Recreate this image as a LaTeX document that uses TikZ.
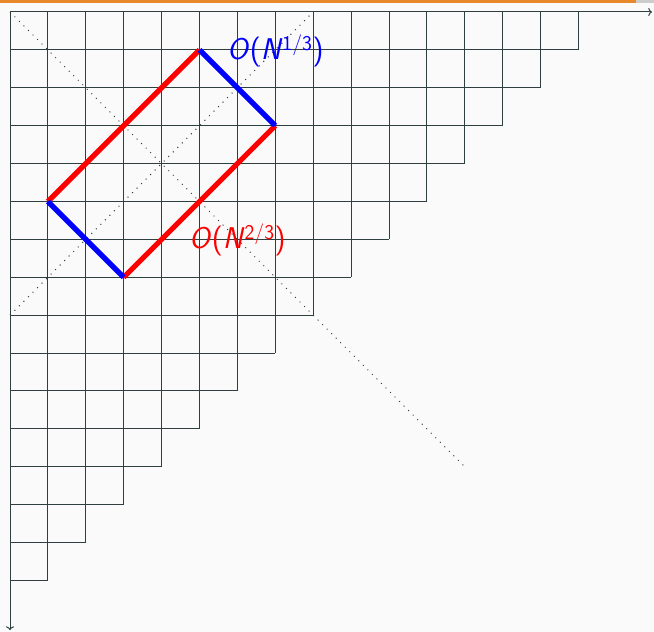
\documentclass[tikz,border=0pt]{standalone}
\usepackage{tikz}
\usetikzlibrary{arrows.meta}
\definecolor{bgcol}{HTML}{FAFAFA}
\definecolor{gridcol}{HTML}{2F3F3F}
\definecolor{barcol}{HTML}{E8892B}

\begin{document}
\begin{tikzpicture}[x=37.9pt,y=-37.9pt,
    gridline/.style={gridcol,line width=1pt},
    diag/.style={gridcol,line width=1pt,dash pattern=on 1pt off 5.4pt},
    side/.style={line width=5.3pt},
    lbl/.style={font=\fontsize{30}{32}\selectfont\sffamily}]
  \useasboundingbox (-0.2639,-0.3166) rectangle (16.992,16.359);
  \fill[bgcol] (-0.2639,-0.3166) rectangle (16.992,16.359);
  \fill[barcol] (-0.2639,-0.3166) rectangle (16.52,-0.24);
  \fill[gray!40] (16.52,-0.3166) rectangle (16.992,-0.24);
  % staircase grid
  \foreach \k in {1,...,15} {
    \draw[gridline] (0,\k) -- ({16-\k},\k);
    \draw[gridline] (\k,0) -- (\k,{16-\k});
  }
  \draw[gridline,->] (0,0) -- (16.94,0);
  \draw[gridline,->] (0,0) -- (0,16.31);
  % diagonals
  \draw[diag] (0,0) -- (12,12);
  \draw[diag] (0,8) -- (8,0);
  % rectangle
  \coordinate (top) at (5,1);
  \coordinate (right) at (7,3);
  \coordinate (bottom) at (3,7);
  \coordinate (left) at (1,5);
  \draw[side,red] (top) -- (left);
  \draw[side,red] (right) -- (bottom);
  \draw[side,blue] (top) -- (right);
  \draw[side,blue] (left) -- (bottom);
  \node[lbl,blue] (short) at (7.0,1.03) {\textsl{O}(\textsl{N}\textsuperscript{1/3})};
  \node[lbl,red] (long) at (6.0,6.02) {\textsl{O}(\textsl{N}\textsuperscript{2/3})};
\end{tikzpicture}
\end{document}
